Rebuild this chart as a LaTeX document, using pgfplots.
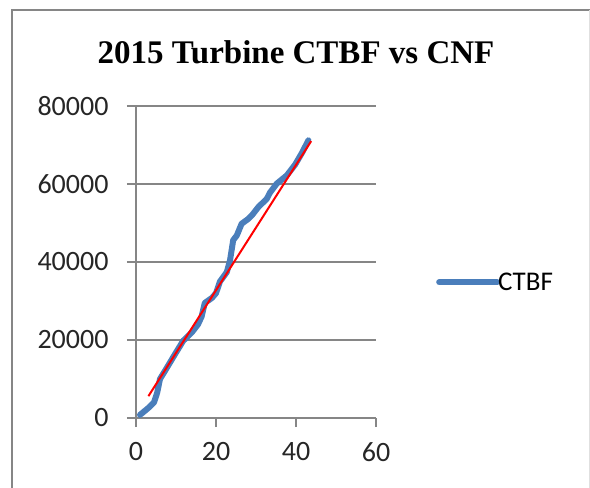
\documentclass[border=0pt]{standalone}
\usepackage{pgfplots}
\pgfplotsset{compat=1.18}
\usepackage{fontspec}
\setmainfont{Carlito}
\newfontfamily\titlefont{Liberation Serif}
\definecolor{ctbfblue}{RGB}{74,126,187}
\definecolor{framegray}{RGB}{134,134,134}
\definecolor{gridgray}{RGB}{134,134,134}

% cumulative time between failures against cumulative number of failures
\pgfplotstableread{
x y
1 800
3 2500
4.5 4000
5.3 6500
6 10000
7.5 12500
9.3 15600
11.8 19800
14 22000
15.5 24000
16.4 26000
17.2 29500
19 30800
20 32000
21 35000
22.7 37400
23.5 40400
24.3 45600
25.2 46800
26.4 49800
28 51000
29 52000
30.6 54100
32.7 56200
33.5 57800
35.2 60100
37.7 62200
39.8 65000
41.5 68000
43.1 71200
}\ctbf

% linear trend line
\pgfplotstableread{
x y
3.1 5600
43.8 71000
}\trend

\begin{document}
\begin{tikzpicture}[x=1pt,y=1pt]
\useasboundingbox (0,0) rectangle (590,488);
% chart frame
\draw[framegray, line width=2pt] (12,-10) -- (12,478) -- (590,478);
\draw[black!12, line width=0.8pt] (589,0) -- (589,478);
% title
\node[anchor=base, font=\titlefont\bfseries\fontsize{33}{36}\selectfont] at (296,424) {2015 Turbine CTBF vs CNF};
\begin{axis}[
  at={(136pt,70pt)}, anchor=origin,
  scale only axis,
  width=240pt, height=312pt,
  xmin=0, xmax=60, ymin=0, ymax=80000,
  xtick={0,20,40,60}, ytick={0,20000,40000,60000,80000},
  scaled y ticks=false,
  /pgf/number format/assume math mode=true,
  yticklabel={\pgfmathprintnumber[fixed,1000 sep={}]{\tick}},
  xticklabel={\pgfmathprintnumber{\tick}},
  ticklabel style={font=\fontsize{28}{30}\selectfont, text=black!85},
  axis x line*=bottom, axis y line*=left,
  axis line style={gridgray, line width=2.4pt, -},
  tick style={gridgray, line width=2.4pt},
  major tick length=9pt,
  tick align=outside,
  ymajorgrids,
  grid style={gridgray, line width=2.4pt},
  xtick pos=bottom, ytick pos=left,
  yticklabel style={xshift=-15pt},
  xticklabel style={yshift=-12pt},
  clip=false,
  legend style={at={(1.25,0.435)}, anchor=west, draw=none, fill=none,
    font=\fontsize{27}{29}\selectfont, inner sep=0pt,
    legend cell align=left,
    /tikz/every even column/.append style={column sep=0pt}},
  legend image code/.code={\draw[#1, line cap=round] (0pt,0pt) -- (58pt,0pt);},
]
\addplot[ctbfblue, line width=6pt, line join=round, line cap=round] table[x=x,y=y] {\ctbf};
\addlegendentry{\hspace{-4pt}CTBF}
\addplot[red, line width=2pt, forget plot] table[x=x,y=y] {\trend};
\end{axis}
\end{tikzpicture}
\end{document}
